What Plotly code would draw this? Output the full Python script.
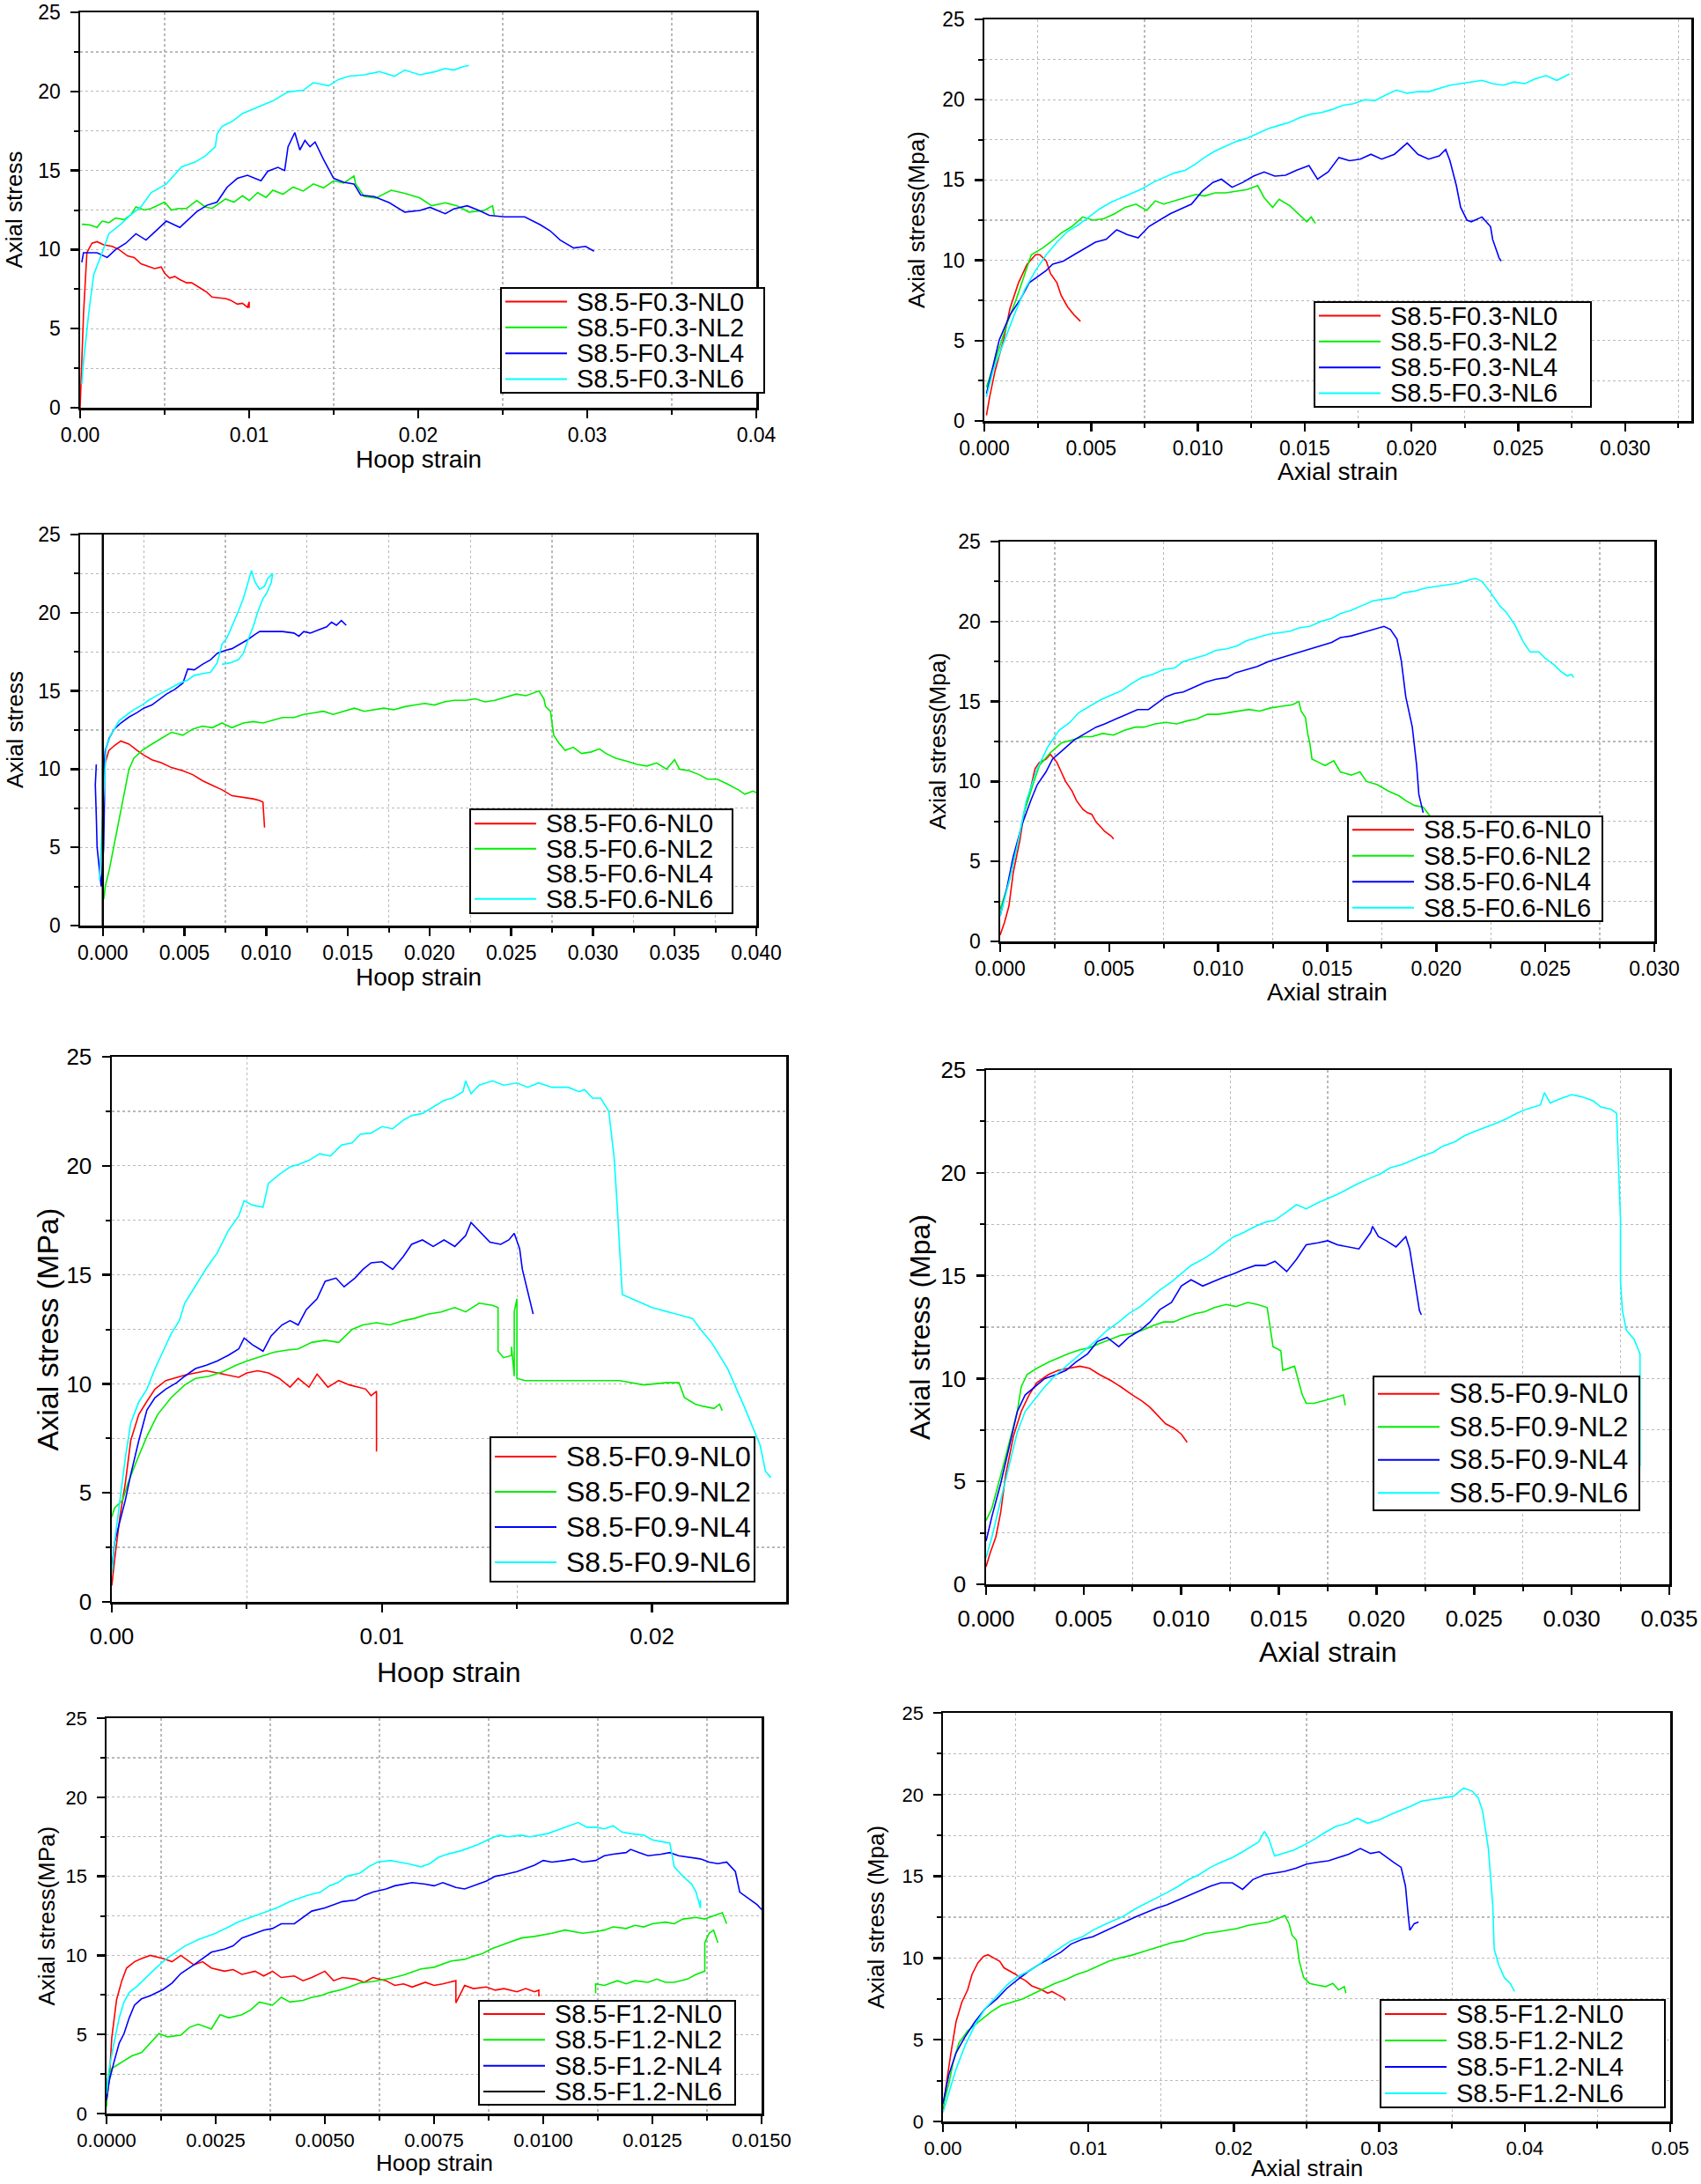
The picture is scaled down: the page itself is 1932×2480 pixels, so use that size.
import plotly.graph_objects as go

W, H = 1932, 2480

RED, GREEN, BLUE, CYAN = "#FF0000", "#00EE00", "#0000FF", "#00FFFF"

# ---------------- Panel 1: F0.3, hoop strain ----------------
p1_nl0_x = [0, 0.0001, 0.0002, 0.0004, 0.0007, 0.0010, 0.0014, 0.0019, 0.0023, 0.0028, 0.0032, 0.0036, 0.0039, 0.0044,
            0.0048, 0.0050, 0.0053, 0.0056, 0.0059, 0.0063, 0.0066, 0.0070, 0.0072, 0.0075, 0.0078, 0.0082, 0.0086,
            0.0089, 0.0093, 0.0096, 0.0099, 0.0100, 0.0100]
p1_nl0_y = [0, 3.0, 5.9, 9.8, 10.4, 10.5, 10.3, 10.2, 10.0, 9.6, 9.5, 9.1, 9.0, 8.8, 8.9, 8.5, 8.2, 8.3, 8.1, 7.9, 7.9,
            7.6, 7.5, 7.3, 7.0, 6.95, 6.9, 6.8, 6.55, 6.6, 6.35, 6.7, 6.3]
p1_nl2_x = [0.0001, 0.0006, 0.0010, 0.0013, 0.0017, 0.0021, 0.0026, 0.0030, 0.0033, 0.0038, 0.0042, 0.0046, 0.0050, 0.0054,
            0.0058, 0.0063, 0.0069, 0.0074, 0.0078, 0.0082, 0.0086, 0.0091, 0.0096, 0.0100, 0.0105, 0.0110, 0.0114,
            0.0120, 0.0126, 0.0132, 0.0138, 0.0144, 0.0150, 0.0156, 0.0162, 0.0163, 0.0168, 0.0175, 0.0184, 0.0192,
            0.0201, 0.0208, 0.0216, 0.0223, 0.0230, 0.0239, 0.0244, 0.0245]
p1_nl2_y = [11.6, 11.55, 11.4, 11.8, 11.7, 12.0, 11.9, 12.2, 12.7, 12.5, 12.6, 12.8, 13.0, 12.5, 12.6, 12.6, 13.1, 12.7,
            12.6, 12.9, 13.2, 13.0, 13.4, 13.1, 13.6, 13.3, 13.75, 13.5, 13.95, 13.7, 14.15, 13.9, 14.35, 14.2, 14.65,
            14.15, 13.36, 13.26, 13.75, 13.56, 13.26, 12.77, 12.96, 12.77, 12.37, 12.47, 12.77, 12.17]
p1_nl4_x = [0.0001, 0.0002, 0.0010, 0.0016, 0.0021, 0.0027, 0.0033, 0.0039, 0.0045, 0.0051, 0.0059, 0.0063, 0.0069,
            0.0075, 0.0081, 0.0087, 0.0093, 0.0099, 0.0107, 0.0111, 0.0117, 0.0121, 0.0123, 0.0127, 0.0130, 0.0133,
            0.0136, 0.0139, 0.0144, 0.0150, 0.0156, 0.0162, 0.0166, 0.0174, 0.0183, 0.0192, 0.0201, 0.0207, 0.0216,
            0.0221, 0.0229, 0.0236, 0.0242, 0.0251, 0.0263, 0.0272, 0.0278, 0.0284, 0.0292, 0.0299, 0.0304]
p1_nl4_y = [9.2, 9.8, 9.8, 9.5, 10.0, 10.4, 11.0, 10.6, 11.2, 11.8, 11.4, 11.8, 12.4, 12.8, 13.0, 13.95, 14.5, 14.7,
            14.35, 14.95, 15.2, 15.0, 16.5, 17.4, 16.3, 16.9, 16.5, 16.8, 15.7, 14.5, 14.25, 14.15, 13.45, 13.35,
            12.96, 12.37, 12.47, 12.67, 12.27, 12.57, 12.77, 12.47, 12.17, 12.07, 12.07, 11.58, 11.19, 10.6, 10.1,
            10.2, 9.9]
p1_nl6_x = [0.0001, 0.0002, 0.0005, 0.0008, 0.0013, 0.0017, 0.0024, 0.0030, 0.0036, 0.0042, 0.0051, 0.0056, 0.0060,
            0.0068, 0.0074, 0.0080, 0.0081, 0.0084, 0.0090, 0.0096, 0.0105, 0.0114, 0.0123, 0.0132, 0.0138, 0.0147,
            0.0153, 0.0159, 0.0168, 0.0177, 0.0186, 0.0192, 0.0201, 0.0210, 0.0216, 0.0221, 0.0226, 0.0230]
p1_nl6_y = [1.5, 2.9, 5.9, 8.4, 9.8, 11.0, 11.6, 12.2, 12.7, 13.6, 14.15, 14.74, 15.23, 15.53, 15.92, 16.5, 17.3, 17.8,
            18.1, 18.6, 19.0, 19.4, 19.97, 20.07, 20.56, 20.36, 20.76, 20.96, 21.05, 21.25, 20.96, 21.35, 21.05,
            21.25, 21.45, 21.35, 21.55, 21.65]

# ---------------- Panel 2: F0.3, axial strain ----------------
p2_nl0_x = [0.0001, 0.00025, 0.0005, 0.0009, 0.0012, 0.0016, 0.0020, 0.0024, 0.0026, 0.0029, 0.0031, 0.0034, 0.0036,
            0.0039, 0.0042, 0.0045]
p2_nl0_y = [0.35, 1.5, 3.1, 5.05, 7.0, 8.6, 9.75, 10.35, 10.35, 9.95, 9.17, 8.6, 7.8, 7.1, 6.6, 6.2]
p2_nl2_x = [0.0001, 0.0004, 0.0007, 0.0011, 0.0015, 0.0019, 0.0022, 0.0027, 0.0031, 0.0036, 0.0041, 0.0046, 0.0051,
            0.0056, 0.0061, 0.0066, 0.0071, 0.0076, 0.0080, 0.0084, 0.0089, 0.0094, 0.0099, 0.0103, 0.0108, 0.0113,
            0.0118, 0.0123, 0.0128, 0.0131, 0.0135, 0.0138, 0.0143, 0.0147, 0.0151, 0.0153, 0.0155]
p2_nl2_y = [2.1, 3.3, 4.47, 6.2, 7.6, 9.17, 10.35, 10.74, 11.13, 11.7, 12.1, 12.7, 12.5, 12.6, 12.9, 13.3, 13.5, 13.1,
            13.7, 13.5, 13.7, 13.9, 14.1, 14.0, 14.2, 14.2, 14.3, 14.4, 14.65, 13.9, 13.3, 13.8, 13.4, 12.9, 12.4, 12.7,
            12.3]
p2_nl4_x = [0.0001, 0.0004, 0.0007, 0.0012, 0.0017, 0.0021, 0.0025, 0.0029, 0.0032, 0.0037, 0.0042, 0.0047, 0.0052,
            0.0057, 0.0062, 0.0067, 0.0072, 0.0077, 0.0082, 0.0087, 0.0092, 0.0097, 0.0102, 0.0107, 0.0111, 0.0116,
            0.0121, 0.0126, 0.0131, 0.0136, 0.0141, 0.0146, 0.0152, 0.0156, 0.0161, 0.0166, 0.0171, 0.0176, 0.0181,
            0.0186, 0.0192, 0.0198, 0.0203, 0.0208, 0.0213, 0.0216, 0.0218, 0.0221, 0.0223, 0.0226, 0.0228, 0.0233,
            0.0237, 0.0238, 0.0241, 0.0242]
p2_nl4_y = [1.7, 3.3, 5.05, 6.6, 7.6, 8.6, 8.97, 9.37, 9.76, 9.95, 10.35, 10.74, 11.13, 11.3, 11.9, 11.6, 11.4, 12.1,
            12.5, 12.9, 13.2, 13.5, 14.3, 14.85, 15.05, 14.55, 14.85, 15.24, 15.5, 15.24, 15.3, 15.6, 15.9, 15.05,
            15.5, 16.4, 16.2, 16.3, 16.6, 16.3, 16.6, 17.3, 16.6, 16.3, 16.5, 16.9, 16.2, 14.65, 13.3, 12.5, 12.4,
            12.7, 12.1, 11.3, 10.15, 9.95]
p2_nl6_x = [0.0001, 0.0004, 0.0009, 0.0014, 0.0019, 0.0024, 0.0029, 0.0034, 0.0039, 0.0044, 0.0049, 0.0054, 0.0059,
            0.0064, 0.0069, 0.0074, 0.0079, 0.0084, 0.0089, 0.0094, 0.0099, 0.0103, 0.0108, 0.0113, 0.0118, 0.0123,
            0.0128, 0.0133, 0.0138, 0.0143, 0.0148, 0.0153, 0.0158, 0.0163, 0.0168, 0.0173, 0.0178, 0.0183, 0.0188,
            0.0193, 0.0198, 0.0203, 0.0208, 0.0213, 0.0218, 0.0223, 0.0228, 0.0233, 0.0238, 0.0243, 0.0248, 0.0253,
            0.0258, 0.0263, 0.0268, 0.0274]
p2_nl6_y = [1.5, 3.1, 4.86, 6.6, 8.2, 9.37, 10.35, 11.13, 11.8, 12.2, 12.7, 13.2, 13.6, 13.9, 14.2, 14.46, 14.85, 15.15,
            15.44, 15.6, 16.0, 16.4, 16.8, 17.1, 17.4, 17.6, 17.9, 18.2, 18.4, 18.6, 18.9, 19.1, 19.2, 19.4, 19.65,
            19.75, 20.0, 19.95, 20.3, 20.6, 20.4, 20.5, 20.5, 20.7, 20.9, 21.0, 21.1, 21.2, 21.0, 20.9, 21.1, 21.0,
            21.3, 21.5, 21.2, 21.6]

# ---------------- Panel 3: F0.6, hoop strain ----------------
p3_nl0_x = [0, 0, 0, 0.00006, 0.00015, 0.00037, 0.0007, 0.0011, 0.0016, 0.0021, 0.0025, 0.0030, 0.0036, 0.0042, 0.0049,
            0.0055, 0.0061, 0.0067, 0.0073, 0.0079, 0.0086, 0.0092, 0.0096, 0.0098, 0.0099]
p3_nl0_y = [0, 1.3, 5.2, 9.07, 10.4, 11.2, 11.5, 11.8, 11.6, 11.2, 10.9, 10.6, 10.4, 10.1, 9.9, 9.65, 9.26, 8.97, 8.68,
            8.3, 8.2, 8.1, 8.0, 7.9, 6.26]
p3_nl2_x = [0.00006, 0.00015, 0.0004, 0.0007, 0.0010, 0.0013, 0.0016, 0.0019, 0.0024, 0.0030, 0.0036, 0.0042, 0.0049,
            0.0055, 0.0061, 0.0067, 0.0073, 0.0079, 0.0086, 0.0092, 0.0098, 0.0104, 0.0110, 0.0117, 0.0123, 0.0129,
            0.0135, 0.0141, 0.0147, 0.0154, 0.0160, 0.0166, 0.0172, 0.0178, 0.0185, 0.0191, 0.0197, 0.0203, 0.0209,
            0.0215, 0.0222, 0.0228, 0.0234, 0.0240, 0.0246, 0.0253, 0.0259, 0.0265, 0.0267, 0.0270, 0.0271, 0.0274,
            0.0276, 0.0279, 0.0283, 0.0288, 0.0293, 0.0299, 0.0304, 0.0308, 0.0314, 0.0321, 0.0327, 0.0333, 0.0339,
            0.0345, 0.0350, 0.0353, 0.0359, 0.0365, 0.0370, 0.0376, 0.0382, 0.0389, 0.0393, 0.0398, 0.0400]
p3_nl2_y = [1.7, 2.5, 3.6, 5.2, 6.74, 8.5, 10.0, 10.7, 11.2, 11.6, 12.0, 12.36, 12.17, 12.56, 12.75, 12.65, 12.95, 12.65,
            12.95, 13.04, 12.95, 13.14, 13.3, 13.3, 13.5, 13.6, 13.7, 13.5, 13.7, 13.9, 13.7, 13.8, 13.9, 13.8, 14.0,
            14.1, 14.2, 14.1, 14.3, 14.4, 14.4, 14.5, 14.3, 14.4, 14.6, 14.8, 14.7, 14.9, 15.0, 14.5, 14.0, 13.7,
            12.17, 11.7, 11.2, 11.4, 11.0, 11.1, 11.3, 11.0, 10.7, 10.5, 10.3, 10.2, 10.4, 10.0, 10.6, 10.0, 9.9,
            9.65, 9.36, 9.36, 9.07, 8.68, 8.4, 8.6, 8.5]
p3_nl4_x = [-0.0004, -0.00046, -0.0004, -0.00035, -0.0002, -0.0001, 0.00005, 0.0001, 0.0001, 0.00015, 0.0004, 0.0007,
            0.0011, 0.0016, 0.0021, 0.0025, 0.0030, 0.0035, 0.0039, 0.0044, 0.0049, 0.0052, 0.0056, 0.0061, 0.0066,
            0.0070, 0.0075, 0.0079, 0.0084, 0.0089, 0.0093, 0.0096, 0.0101, 0.0110, 0.0117, 0.0120, 0.0123, 0.0127,
            0.0132, 0.0137, 0.0140, 0.0143, 0.0146, 0.0149]
p3_nl4_y = [10.3, 9.0, 7.0, 5.0, 3.5, 2.5, 5.0, 8.0, 10.5, 11.2, 12.0, 12.56, 12.95, 13.33, 13.62, 13.9, 14.1, 14.5, 14.8,
            15.1, 15.5, 16.4, 16.35, 16.7, 17.0, 17.4, 17.6, 17.7, 18.0, 18.3, 18.6, 18.8, 18.8, 18.8, 18.7, 18.5,
            18.8, 18.7, 18.9, 19.1, 19.4, 19.2, 19.5, 19.2]
p3_nl6_x = [-0.0002, 0.00005, 0.0002, 0.0005, 0.0010, 0.0015, 0.0019, 0.0024, 0.0028, 0.0033, 0.0038, 0.0042, 0.0047,
            0.0052, 0.0056, 0.0061, 0.0066, 0.0070, 0.0073, 0.0076, 0.0079, 0.0083, 0.0086, 0.0089, 0.0091, 0.0093,
            0.0096, 0.0099, 0.0101, 0.0104, 0.0103, 0.0100, 0.0098, 0.0095, 0.0092, 0.0089, 0.0086, 0.0083, 0.0078,
            0.0073]
p3_nl6_y = [2.9, 8.0, 11.4, 12.2, 13.1, 13.5, 13.8, 14.1, 14.4, 14.7, 15.0, 15.2, 15.5, 15.7, 16.0, 16.1, 16.2, 16.8,
            18.0, 18.4, 19.1, 20.1, 20.9, 22.0, 22.7, 22.0, 21.5, 21.7, 22.2, 22.5, 21.9, 21.2, 20.9, 20.1, 19.1,
            18.3, 17.4, 17.0, 16.8, 16.7]

# ---------------- Panel 4: F0.6, axial strain ----------------
p4_nl0_x = [0, 0.0002, 0.0004, 0.0006, 0.0009, 0.0011, 0.0014, 0.0016, 0.0018, 0.0021, 0.0023, 0.0026, 0.0028, 0.0030,
            0.0033, 0.0035, 0.0038, 0.0040, 0.0042, 0.0044, 0.0046, 0.0048, 0.0051, 0.0052]
p4_nl0_y = [0.4, 1.2, 2.2, 4.3, 6.3, 8.05, 9.6, 10.8, 11.2, 11.4, 11.7, 11.2, 10.6, 10.0, 9.4, 8.8, 8.25, 8.05, 7.95,
            7.46, 7.17, 6.87, 6.58, 6.4]
p4_nl2_x = [0, 0.0004, 0.0008, 0.0011, 0.0015, 0.0018, 0.0023, 0.0028, 0.0033, 0.0038, 0.0042, 0.0047, 0.0052, 0.0057,
            0.0062, 0.0066, 0.0071, 0.0076, 0.0081, 0.0086, 0.0090, 0.0095, 0.0100, 0.0105, 0.0110, 0.0114, 0.0119,
            0.0124, 0.0129, 0.0134, 0.0137, 0.0138, 0.0140, 0.0141, 0.0142, 0.0143, 0.0146, 0.0149, 0.0153, 0.0156,
            0.0161, 0.0165, 0.0168, 0.0173, 0.0178, 0.0183, 0.0186, 0.0190, 0.0194, 0.0196, 0.0197]
p4_nl2_y = [2.0, 3.7, 6.1, 8.05, 9.8, 11.0, 11.8, 12.4, 12.6, 12.8, 12.8, 13.0, 12.9, 13.2, 13.4, 13.4, 13.6, 13.7,
            13.6, 13.8, 13.9, 14.2, 14.2, 14.3, 14.4, 14.5, 14.4, 14.6, 14.7, 14.8, 15.0, 14.4, 14.0, 13.0, 12.4,
            11.4, 11.2, 11.0, 11.3, 10.6, 10.4, 10.6, 10.0, 9.8, 9.4, 9.1, 8.8, 8.5, 8.4, 8.05, 7.86]
p4_nl4_x = [0, 0.0003, 0.0006, 0.0010, 0.0014, 0.0017, 0.0021, 0.0024, 0.0029, 0.0034, 0.0039, 0.0044, 0.0048, 0.0053,
            0.0058, 0.0063, 0.0068, 0.0072, 0.0076, 0.0080, 0.0084, 0.0089, 0.0094, 0.0099, 0.0104, 0.0108, 0.0113,
            0.0118, 0.0123, 0.0128, 0.0132, 0.0137, 0.0142, 0.0147, 0.0152, 0.0156, 0.0161, 0.0166, 0.0171, 0.0176,
            0.0179, 0.0182, 0.0184, 0.0186, 0.0189, 0.0191, 0.0192, 0.0194]
p4_nl4_y = [1.6, 3.3, 5.3, 7.3, 8.8, 9.8, 10.6, 11.4, 12.0, 12.6, 13.0, 13.4, 13.6, 13.9, 14.2, 14.5, 14.5, 14.9, 15.3,
            15.5, 15.6, 15.9, 16.2, 16.4, 16.5, 16.8, 17.0, 17.2, 17.5, 17.7, 17.9, 18.1, 18.3, 18.5, 18.7, 19.0,
            19.1, 19.3, 19.5, 19.7, 19.5, 18.9, 17.5, 15.3, 13.4, 11.0, 9.2, 8.05]
p4_nl6_x = [0, 0.0004, 0.0008, 0.0012, 0.0017, 0.0022, 0.0027, 0.0032, 0.0036, 0.0041, 0.0046, 0.0051, 0.0056, 0.0060,
            0.0065, 0.0070, 0.0075, 0.0080, 0.0084, 0.0089, 0.0094, 0.0099, 0.0104, 0.0109, 0.0113, 0.0118, 0.0123,
            0.0128, 0.0133, 0.0137, 0.0142, 0.0147, 0.0152, 0.0156, 0.0161, 0.0166, 0.0171, 0.0176, 0.0181, 0.0185,
            0.0190, 0.0195, 0.0200, 0.0205, 0.0210, 0.0215, 0.0218, 0.0221, 0.0225, 0.0229, 0.0232, 0.0236, 0.0240,
            0.0243, 0.0247, 0.0250, 0.0254, 0.0257, 0.0260, 0.0262, 0.0263]
p4_nl6_y = [1.6, 3.7, 6.1, 8.8, 10.8, 12.2, 13.2, 13.7, 14.3, 14.7, 15.1, 15.4, 15.7, 16.1, 16.5, 16.7, 17.0, 17.1,
            17.5, 17.7, 17.9, 18.2, 18.3, 18.5, 18.8, 19.0, 19.2, 19.3, 19.4, 19.6, 19.7, 20.0, 20.2, 20.5, 20.7,
            21.0, 21.3, 21.4, 21.5, 21.8, 21.9, 22.1, 22.2, 22.3, 22.4, 22.6, 22.7, 22.5, 21.8, 21.0, 20.6, 19.8,
            18.7, 18.1, 18.1, 17.7, 17.3, 16.9, 16.6, 16.7, 16.5]

# ---------------- Panel 5: F0.9, hoop strain ----------------
p5_nl0_x = [0, 0.0001, 0.0003, 0.0005, 0.0007, 0.0010, 0.0013, 0.0016, 0.0020, 0.0024, 0.0027, 0.0031, 0.0035, 0.0039,
            0.0043, 0.0047, 0.0050, 0.0054, 0.0058, 0.0062, 0.0066, 0.0069, 0.0073, 0.0076, 0.0080, 0.0084, 0.0088,
            0.0091, 0.0094, 0.0096, 0.0098, 0.0098]
p5_nl0_y = [0.75, 1.9, 3.9, 5.45, 7.4, 8.6, 9.2, 9.76, 10.15, 10.3, 10.4, 10.5, 10.6, 10.5, 10.4, 10.3, 10.5, 10.6,
            10.5, 10.25, 9.85, 10.25, 9.85, 10.45, 9.85, 10.15, 9.95, 9.85, 9.76, 9.46, 9.66, 6.9]
p5_nl2_x = [0, 0.0001, 0.0004, 0.0006, 0.0009, 0.0013, 0.0017, 0.0022, 0.0027, 0.0031, 0.0036, 0.0041, 0.0046, 0.0050,
            0.0055, 0.0060, 0.0065, 0.0069, 0.0074, 0.0079, 0.0084, 0.0089, 0.0093, 0.0098, 0.0103, 0.0108, 0.0112,
            0.0117, 0.0122, 0.0127, 0.0131, 0.0136, 0.0141, 0.0143, 0.0143, 0.0145, 0.0148, 0.0148, 0.0149, 0.0149,
            0.0150, 0.0150, 0.0150, 0.0153, 0.0169, 0.0188, 0.0197, 0.0205, 0.0210, 0.0212, 0.0216, 0.0219, 0.0223,
            0.0225, 0.0226]
p5_nl2_y = [3.9, 4.3, 4.66, 5.45, 6.4, 7.6, 8.6, 9.37, 9.95, 10.25, 10.35, 10.55, 10.85, 11.05, 11.25, 11.45, 11.55,
            11.6, 11.9, 12.0, 11.9, 12.5, 12.7, 12.8, 12.7, 12.9, 13.0, 13.2, 13.3, 13.5, 13.3, 13.7, 13.6, 13.5,
            11.5, 11.2, 11.3, 11.7, 10.35, 13.3, 13.9, 13.2, 10.25, 10.15, 10.15, 10.15, 9.95, 10.05, 10.05, 9.37,
            9.07, 8.97, 8.87, 9.07, 8.77]
p5_nl4_x = [0, 0.0001, 0.0003, 0.0005, 0.0007, 0.0010, 0.0013, 0.0016, 0.0020, 0.0024, 0.0027, 0.0031, 0.0035, 0.0039,
            0.0043, 0.0047, 0.0049, 0.0052, 0.0056, 0.0059, 0.0063, 0.0066, 0.0069, 0.0072, 0.0076, 0.0079, 0.0083,
            0.0086, 0.0090, 0.0093, 0.0096, 0.0100, 0.0104, 0.0108, 0.0111, 0.0115, 0.0119, 0.0123, 0.0127, 0.0131,
            0.0133, 0.0136, 0.0140, 0.0144, 0.0147, 0.0149, 0.0151, 0.0152, 0.0154, 0.0156]
p5_nl4_y = [1.5, 2.7, 3.7, 4.66, 5.84, 7.4, 8.8, 9.37, 9.76, 10.05, 10.35, 10.7, 10.85, 11.05, 11.3, 11.6, 12.1, 11.8,
            11.5, 12.2, 12.7, 12.9, 12.7, 13.4, 13.9, 14.7, 14.85, 14.45, 14.85, 15.25, 15.55, 15.6, 15.25, 15.85,
            16.4, 16.6, 16.3, 16.6, 16.3, 16.8, 17.4, 17.0, 16.5, 16.4, 16.6, 16.9, 16.2, 15.25, 14.26, 13.2]
p5_nl6_x = [0, 0.0001, 0.0003, 0.0005, 0.0007, 0.0010, 0.0013, 0.0016, 0.0019, 0.0022, 0.0025, 0.0027, 0.0031, 0.0035,
            0.0039, 0.0043, 0.0047, 0.0049, 0.0052, 0.0056, 0.0058, 0.0062, 0.0066, 0.0069, 0.0073, 0.0077, 0.0081,
            0.0085, 0.0089, 0.0092, 0.0096, 0.0100, 0.0104, 0.0108, 0.0111, 0.0115, 0.0119, 0.0123, 0.0126, 0.0130,
            0.0131, 0.0133, 0.0136, 0.0141, 0.0145, 0.0150, 0.0154, 0.0158, 0.0163, 0.0169, 0.0173, 0.0175, 0.0178,
            0.0181, 0.0184, 0.0186, 0.0187, 0.0188, 0.0189, 0.0200, 0.0215, 0.0218, 0.0222, 0.0228, 0.0234, 0.0240,
            0.0242, 0.0244]
p5_nl6_y = [1.3, 2.7, 4.66, 6.6, 8.2, 9.17, 9.76, 10.7, 11.5, 12.3, 12.9, 13.7, 14.5, 15.3, 16.0, 17.0, 17.7, 18.4, 18.2,
            18.1, 19.2, 19.6, 19.95, 20.05, 20.25, 20.55, 20.45, 20.95, 21.05, 21.45, 21.5, 21.8, 21.7, 22.1, 22.3,
            22.4, 22.7, 23.0, 23.1, 23.4, 23.9, 23.3, 23.7, 23.9, 23.7, 23.8, 23.6, 23.8, 23.6, 23.6, 23.4, 23.5,
            23.1, 23.1, 22.5, 20.35, 18.4, 16.4, 14.1, 13.5, 13.0, 12.5, 11.9, 10.7, 9.0, 7.2, 6.0, 5.7]

# ---------------- Panel 6: F0.9, axial strain ----------------
p6_nl0_x = [0, 0.0002, 0.0005, 0.00075, 0.0010, 0.0014, 0.0018, 0.0022, 0.0026, 0.0032, 0.0037, 0.0042, 0.0048, 0.0053,
            0.0058, 0.0064, 0.0069, 0.0075, 0.0080, 0.0084, 0.0088, 0.0092, 0.0096, 0.0100, 0.0103]
p6_nl0_y = [0.85, 1.5, 2.3, 3.5, 5.3, 7.2, 8.4, 9.2, 9.8, 10.2, 10.4, 10.5, 10.6, 10.5, 10.2, 9.9, 9.6, 9.2, 8.9, 8.6,
            8.2, 7.8, 7.6, 7.3, 6.9]
p6_nl2_x = [0, 0.0003, 0.00075, 0.0012, 0.0016, 0.0018, 0.0021, 0.0026, 0.0032, 0.0037, 0.0042, 0.0048, 0.0053, 0.0058,
            0.0064, 0.0069, 0.0075, 0.0080, 0.0085, 0.0091, 0.0096, 0.0101, 0.0107, 0.0112, 0.0117, 0.0123, 0.0128,
            0.0134, 0.0139, 0.0144, 0.0147, 0.0151, 0.0152, 0.0158, 0.0160, 0.0162, 0.0164, 0.0168, 0.0176, 0.0183,
            0.0184]
p6_nl2_y = [3.1, 3.7, 5.3, 7.0, 8.4, 9.6, 10.2, 10.5, 10.8, 11.0, 11.2, 11.4, 11.5, 11.7, 11.9, 12.1, 12.2, 12.35,
            12.55, 12.75, 12.75, 12.95, 13.15, 13.25, 13.45, 13.6, 13.5, 13.7, 13.6, 13.45, 11.55, 11.35, 10.4, 10.6,
            9.9, 9.2, 8.8, 8.8, 9.0, 9.2, 8.7]
p6_nl4_x = [0, 0.0003, 0.00075, 0.0012, 0.0016, 0.0020, 0.0025, 0.0030, 0.0036, 0.0041, 0.0046, 0.0052, 0.0057, 0.0062,
            0.0068, 0.0073, 0.0079, 0.0084, 0.0089, 0.0095, 0.0100, 0.0105, 0.0111, 0.0116, 0.0121, 0.0127, 0.0132,
            0.0138, 0.0143, 0.0148, 0.0154, 0.0159, 0.0164, 0.0170, 0.0175, 0.0180, 0.0186, 0.0191, 0.0197, 0.0198,
            0.0201, 0.0205, 0.0210, 0.0215, 0.0217, 0.0219, 0.0221, 0.0222, 0.0223]
p6_nl4_y = [2.1, 3.3, 4.9, 6.8, 8.4, 9.2, 9.6, 10.0, 10.2, 10.4, 10.8, 11.2, 11.8, 12.0, 11.55, 12.0, 12.35, 12.75,
            13.35, 13.7, 14.5, 14.8, 14.5, 14.7, 14.9, 15.1, 15.3, 15.5, 15.5, 15.7, 15.2, 15.8, 16.5, 16.6, 16.7,
            16.5, 16.4, 16.3, 17.1, 17.4, 16.9, 16.7, 16.4, 16.9, 16.3, 15.1, 13.9, 13.3, 13.1]
p6_nl6_x = [0, 0.0003, 0.00075, 0.0012, 0.0016, 0.0020, 0.0025, 0.0030, 0.0036, 0.0041, 0.0046, 0.0052, 0.0057, 0.0062,
            0.0068, 0.0073, 0.0079, 0.0084, 0.0089, 0.0095, 0.0100, 0.0105, 0.0111, 0.0116, 0.0121, 0.0127, 0.0132,
            0.0138, 0.0143, 0.0148, 0.0154, 0.0159, 0.0164, 0.0170, 0.0175, 0.0180, 0.0186, 0.0191, 0.0197, 0.0202,
            0.0207, 0.0213, 0.0218, 0.0223, 0.0229, 0.0234, 0.0240, 0.0245, 0.0250, 0.0256, 0.0261, 0.0266, 0.0272,
            0.0277, 0.0284, 0.0286, 0.0289, 0.0294, 0.0300, 0.0305, 0.0311, 0.0315, 0.0320, 0.0323, 0.0324, 0.0325,
            0.0325, 0.0326, 0.0328, 0.0332, 0.0335, 0.0335, 0.0335, 0.0335]
p6_nl6_y = [1.3, 2.3, 4.1, 5.9, 7.4, 8.4, 9.0, 9.6, 10.2, 10.6, 11.0, 11.5, 11.9, 12.35, 12.75, 13.15, 13.5, 13.9,
            14.3, 14.7, 15.1, 15.5, 15.8, 16.1, 16.5, 16.9, 17.1, 17.4, 17.6, 17.7, 18.1, 18.45, 18.25, 18.55, 18.75,
            18.95, 19.25, 19.5, 19.75, 19.95, 20.25, 20.4, 20.6, 20.8, 21.0, 21.3, 21.5, 21.8, 22.0, 22.2, 22.4, 22.6,
            22.9, 23.1, 23.3, 23.9, 23.4, 23.6, 23.8, 23.7, 23.5, 23.2, 23.1, 22.9, 20.6, 17.7, 14.7, 13.3, 12.35,
            11.9, 11.2, 10.2, 8.8, 5.75]

# ---------------- Panel 7: F1.2, hoop strain ----------------
p7_nl0_x = [0, 0.00006, 0.00012, 0.00023, 0.00035, 0.00046, 0.00064, 0.0008, 0.0010, 0.0013, 0.0015, 0.0017, 0.0020,
            0.0022, 0.0024, 0.0027, 0.0029, 0.0031, 0.0034, 0.0036, 0.0038, 0.0040, 0.0043, 0.0045, 0.0047, 0.0050,
            0.0052, 0.0054, 0.0057, 0.0059, 0.0061, 0.0064, 0.0066, 0.0068, 0.0070, 0.0073, 0.0075, 0.0077, 0.0080,
            0.0080, 0.0082, 0.0084, 0.0087, 0.0089, 0.0091, 0.0094, 0.0096, 0.0098, 0.0099, 0.0099]
p7_nl0_y = [0.85, 2.05, 4.8, 7.2, 8.4, 9.2, 9.6, 9.8, 10.0, 9.8, 9.6, 10.0, 9.4, 9.6, 9.2, 9.0, 9.1, 8.8, 9.0, 8.7, 9.0,
            8.6, 8.7, 8.4, 8.6, 9.0, 8.4, 8.6, 8.5, 8.3, 8.6, 8.4, 8.1, 8.2, 8.0, 8.3, 8.1, 8.2, 8.4, 7.0, 8.1, 7.9,
            8.0, 7.8, 7.9, 7.7, 7.9, 7.7, 7.8, 7.4]
p7_nl2_x = [0, 0.00003, 0.00012, 0.00035, 0.00058, 0.0008, 0.0010, 0.0012, 0.0014, 0.0017, 0.0019, 0.0021, 0.0024,
            0.0026, 0.0028, 0.0031, 0.0033, 0.0035, 0.0038, 0.0040, 0.0042, 0.0045, 0.0047, 0.0049, 0.0051, 0.0054,
            0.0056, 0.0058, 0.0061, 0.0063, 0.0065, 0.0068, 0.0070, 0.0072, 0.0075, 0.0077, 0.0079, 0.0082, 0.0084,
            0.0086, 0.0088, 0.0091, 0.0093, 0.0095, 0.0098, 0.0100, 0.0102, 0.0105, 0.0107, 0.0109, 0.0112, 0.0114,
            0.0116, 0.0119, 0.0121, 0.0123, 0.0125, 0.0128, 0.0130, 0.0132, 0.0135, 0.0137, 0.0139, 0.0141, 0.0142,
            None,
            0.0112, 0.0112, 0.0114, 0.0117, 0.0119, 0.0121, 0.0124, 0.0126, 0.0128, 0.0130, 0.0133, 0.0135, 0.0137,
            0.0137, 0.0138, 0.0139, 0.0140]
p7_nl2_y = [0.45, 2.25, 2.85, 3.25, 3.65, 3.85, 4.45, 5.05, 4.85, 4.95, 5.45, 5.65, 5.35, 6.25, 6.05, 6.25, 6.55, 7.05,
            6.85, 7.35, 7.05, 7.15, 7.35, 7.45, 7.65, 7.85, 8.05, 8.25, 8.35, 8.45, 8.55, 8.75, 8.95, 9.15, 9.25,
            9.45, 9.65, 9.75, 9.95, 10.1, 10.4, 10.7, 10.9, 11.1, 11.2, 11.3, 11.4, 11.6, 11.5, 11.4, 11.5, 11.6,
            11.8, 11.7, 11.9, 11.8, 12.0, 12.1, 12.0, 12.3, 12.4, 12.3, 12.5, 12.7, 12.0,
            None,
            7.6, 8.2, 8.1, 8.4, 8.2, 8.4, 8.3, 8.5, 8.3, 8.3, 8.5, 8.8, 9.0, 10.8, 11.4, 11.6, 10.8]
p7_nl4_x = [0, 0.00006, 0.00017, 0.00029, 0.0004, 0.00052, 0.00064, 0.0008, 0.0010, 0.0013, 0.0015, 0.0017, 0.0020,
            0.0022, 0.0024, 0.0027, 0.0029, 0.0031, 0.0034, 0.0036, 0.0038, 0.0040, 0.0043, 0.0045, 0.0047, 0.0050,
            0.0052, 0.0054, 0.0057, 0.0059, 0.0061, 0.0064, 0.0066, 0.0068, 0.0070, 0.0073, 0.0075, 0.0077, 0.0080,
            0.0082, 0.0084, 0.0087, 0.0089, 0.0091, 0.0094, 0.0096, 0.0098, 0.0100, 0.0102, 0.0105, 0.0107, 0.0109,
            0.0112, 0.0114, 0.0116, 0.0119, 0.0120, 0.0122, 0.0124, 0.0127, 0.0129, 0.0131, 0.0134, 0.0136, 0.0138,
            0.0140, 0.0142, 0.0144, 0.0145, 0.0147, 0.0149, 0.0150]
p7_nl4_y = [0.85, 2.05, 3.25, 4.45, 5.05, 6.05, 6.85, 7.25, 7.45, 7.85, 8.25, 8.85, 9.4, 9.8, 10.2, 10.4, 10.6, 11.1,
            11.4, 11.6, 11.7, 12.0, 12.0, 12.4, 12.8, 13.0, 13.2, 13.4, 13.5, 13.8, 14.0, 14.2, 14.4, 14.5, 14.6,
            14.5, 14.4, 14.6, 14.3, 14.2, 14.4, 14.7, 15.0, 15.1, 15.3, 15.5, 15.7, 16.0, 15.9, 16.0, 16.1, 15.9,
            16.0, 16.3, 16.4, 16.5, 16.7, 16.5, 16.3, 16.4, 16.5, 16.3, 16.2, 16.1, 15.9, 15.8, 15.9, 15.3, 14.0,
            13.6, 13.2, 12.9]
p7_nl6_x = [0, 0.00006, 0.00017, 0.00029, 0.0004, 0.00052, 0.0007, 0.00092, 0.00115, 0.0014, 0.0016, 0.0018, 0.0021,
            0.0023, 0.0025, 0.0028, 0.0030, 0.0032, 0.0035, 0.0037, 0.0039, 0.0042, 0.0044, 0.0046, 0.0049, 0.0051,
            0.0053, 0.0055, 0.0058, 0.0060, 0.0062, 0.0065, 0.0067, 0.0069, 0.0072, 0.0074, 0.0076, 0.0078, 0.0081,
            0.0083, 0.0085, 0.0088, 0.0090, 0.0092, 0.0095, 0.0097, 0.0099, 0.0101, 0.0104, 0.0106, 0.0108, 0.0110,
            0.0112, 0.0114, 0.0116, 0.0118, 0.0120, 0.0123, 0.0125, 0.0127, 0.0129, 0.0130, 0.0132, 0.0134, 0.0135,
            0.0136, 0.0136]
p7_nl6_y = [1.25, 2.85, 4.45, 6.05, 7.05, 7.65, 8.05, 8.65, 9.25, 9.85, 10.25, 10.6, 11.0, 11.2, 11.4, 11.8, 12.1, 12.3,
            12.6, 12.8, 13.0, 13.4, 13.6, 13.8, 14.0, 14.4, 14.6, 15.0, 15.2, 15.6, 15.9, 16.0, 15.9, 15.8, 15.6,
            15.8, 16.2, 16.4, 16.6, 16.8, 17.0, 17.4, 17.6, 17.5, 17.6, 17.5, 17.6, 17.7, 18.0, 18.2, 18.4, 18.1,
            18.1, 18.0, 18.2, 17.8, 17.7, 17.6, 17.3, 17.2, 17.1, 15.6, 15.0, 14.5, 14.0, 13.0, 13.5]

# ---------------- Panel 8: F1.2, axial strain ----------------
p8_nl0_x = [0, 0.0002, 0.00055, 0.0009, 0.0013, 0.0017, 0.0020, 0.0024, 0.0028, 0.0031, 0.0035, 0.0039, 0.0042, 0.0046,
            0.0050, 0.0053, 0.0057, 0.0061, 0.0064, 0.0068, 0.0072, 0.0075, 0.0079, 0.0083, 0.0084]
p8_nl0_y = [0.7, 2.1, 4.2, 6.1, 7.3, 8.05, 9.0, 9.7, 10.1, 10.2, 10.0, 9.8, 9.4, 9.2, 9.0, 8.8, 8.6, 8.3, 8.2, 8.05,
            7.85, 7.95, 7.75, 7.55, 7.4]
p8_nl2_x = [0, 0.0004, 0.0007, 0.0011, 0.0017, 0.0022, 0.0028, 0.0033, 0.0040, 0.0048, 0.0055, 0.0063, 0.0070, 0.0077,
            0.0085, 0.0092, 0.0099, 0.0107, 0.0114, 0.0121, 0.0129, 0.0136, 0.0143, 0.0151, 0.0158, 0.0165, 0.0173,
            0.0180, 0.0188, 0.0195, 0.0202, 0.0210, 0.0217, 0.0224, 0.0230, 0.0235, 0.0238, 0.0240, 0.0243, 0.0245,
            0.0248, 0.0252, 0.0257, 0.0263, 0.0268, 0.0272, 0.0276, 0.0277]
p8_nl2_y = [0.9, 2.3, 3.6, 4.8, 5.55, 5.9, 6.3, 6.7, 7.1, 7.3, 7.5, 7.85, 8.15, 8.45, 8.7, 9.0, 9.2, 9.5, 9.8, 10.0,
            10.15, 10.35, 10.55, 10.75, 10.95, 11.05, 11.3, 11.5, 11.6, 11.7, 11.8, 12.0, 12.1, 12.2, 12.4, 12.6,
            12.1, 11.4, 11.1, 9.8, 8.8, 8.45, 8.35, 8.25, 8.45, 8.05, 8.25, 7.85]
p8_nl4_x = [0, 0.0004, 0.0009, 0.0015, 0.0022, 0.0029, 0.0037, 0.0044, 0.0051, 0.0059, 0.0066, 0.0074, 0.0081, 0.0088,
            0.0096, 0.0103, 0.0110, 0.0118, 0.0125, 0.0132, 0.0140, 0.0147, 0.0154, 0.0162, 0.0169, 0.0176, 0.0184,
            0.0191, 0.0199, 0.0206, 0.0213, 0.0221, 0.0228, 0.0235, 0.0243, 0.0250, 0.0257, 0.0265, 0.0272, 0.0279,
            0.0287, 0.0294, 0.0300, 0.0305, 0.0310, 0.0315, 0.0318, 0.0320, 0.0321, 0.0324, 0.0327]
p8_nl4_y = [1.1, 2.85, 4.2, 5.15, 6.1, 6.9, 7.5, 8.15, 8.65, 9.2, 9.6, 10.0, 10.35, 10.85, 11.15, 11.3, 11.6, 11.9,
            12.2, 12.5, 12.8, 13.05, 13.25, 13.55, 13.8, 14.1, 14.4, 14.6, 14.6, 14.2, 14.8, 15.1, 15.2, 15.3, 15.5,
            15.75, 15.85, 15.95, 16.15, 16.35, 16.7, 16.4, 16.5, 16.15, 15.85, 15.55, 14.4, 12.5, 11.7, 12.1, 12.2]
p8_nl6_x = [0, 0.0004, 0.0009, 0.0015, 0.0022, 0.0029, 0.0037, 0.0044, 0.0051, 0.0059, 0.0066, 0.0074, 0.0081, 0.0088,
            0.0096, 0.0103, 0.0110, 0.0118, 0.0125, 0.0132, 0.0140, 0.0147, 0.0154, 0.0162, 0.0169, 0.0176, 0.0184,
            0.0191, 0.0199, 0.0206, 0.0213, 0.0217, 0.0221, 0.0224, 0.0228, 0.0233, 0.0241, 0.0248, 0.0256, 0.0263,
            0.0270, 0.0278, 0.0285, 0.0292, 0.0300, 0.0307, 0.0314, 0.0322, 0.0329, 0.0336, 0.0344, 0.0351, 0.0358,
            0.0364, 0.0368, 0.0371, 0.0375, 0.0378, 0.0379, 0.0382, 0.0386, 0.0390, 0.0393]
p8_nl6_y = [0.55, 1.7, 3.2, 4.6, 5.9, 6.9, 7.65, 8.35, 8.85, 9.2, 9.6, 10.2, 10.65, 11.05, 11.3, 11.7, 12.0, 12.3, 12.6,
            13.0, 13.35, 13.65, 14.0, 14.4, 14.8, 15.1, 15.55, 15.85, 16.15, 16.5, 16.9, 17.1, 17.75, 17.3, 16.25,
            16.4, 16.6, 16.9, 17.3, 17.7, 18.05, 18.25, 18.55, 18.25, 18.45, 18.75, 19.0, 19.3, 19.6, 19.7, 19.8,
            19.9, 20.4, 20.2, 19.8, 19.0, 16.7, 13.25, 10.55, 9.6, 8.8, 8.45, 7.95]

# ---------------- Labels ----------------
p1_names = ["S8.5-F0.3-NL0", "S8.5-F0.3-NL2", "S8.5-F0.3-NL4", "S8.5-F0.3-NL6"]
p3_names = ["S8.5-F0.6-NL0", "S8.5-F0.6-NL2", "S8.5-F0.6-NL4", "S8.5-F0.6-NL6"]
p5_names = ["S8.5-F0.9-NL0", "S8.5-F0.9-NL2", "S8.5-F0.9-NL4", "S8.5-F0.9-NL6"]
p7_names = ["S8.5-F1.2-NL0", "S8.5-F1.2-NL2", "S8.5-F1.2-NL4", "S8.5-F1.2-NL6"]
y_range = [0, 25]
y_ticks = [0, 5, 10, 15, 20, 25]

COLORS = [RED, GREEN, BLUE, CYAN]
SMALL = dict(tick=23, xt=28, yt=26, leg=29, xoff=58, xstand=0)
BOTTOM = dict(tick=22, xt=26, yt=26, leg=29, xoff=56, xstand=0)
BIG5 = dict(tick=26, xt=32, yt=34, leg=32, xoff=80, xstand=5)
BIG6 = dict(tick=26, xt=32, yt=32, leg=31, xoff=77, xstand=5)

# Panel layout (pixel boxes), legend boxes and fonts
panels = [
    dict(series=[(p1_nl0_x, p1_nl0_y), (p1_nl2_x, p1_nl2_y), (p1_nl4_x, p1_nl4_y), (p1_nl6_x, p1_nl6_y)],
         names=p1_names, dom=(91, 859, 14, 463), xr=[0, 0.04], dt=0.01, mdt=0.005, fmt=".2f",
         xt="Hoop strain", yt="Axial stress", ytx=15, legbox=(569, 327, 868, 446), legsp=29.3,
         fs=SMALL, swatch=COLORS),
    dict(series=[(p2_nl0_x, p2_nl0_y), (p2_nl2_x, p2_nl2_y), (p2_nl4_x, p2_nl4_y), (p2_nl6_x, p2_nl6_y)],
         names=p1_names, dom=(1118, 1921, 22, 478), xr=[0, 0.0331], dt=0.005, mdt=0.0025, fmt=".3f",
         xt="Axial strain", yt="Axial stress(Mpa)", ytx=1041, legbox=(1493, 343, 1807, 462), legsp=29.3,
         fs=SMALL, swatch=COLORS),
    dict(series=[(p3_nl0_x, p3_nl0_y), (p3_nl2_x, p3_nl2_y), (p3_nl4_x, p3_nl4_y), (p3_nl6_x, p3_nl6_y)],
         names=p3_names, dom=(91, 859, 607, 1051), xr=[-0.00139, 0.0400], dt=0.005, mdt=0.0025, fmt=".3f",
         xt="Hoop strain", yt="Axial stress", ytx=17, legbox=(534, 919, 832, 1037), legsp=28.5,
         fs=SMALL, swatch=[RED, GREEN, None, CYAN]),
    dict(series=[(p4_nl0_x, p4_nl0_y), (p4_nl2_x, p4_nl2_y), (p4_nl4_x, p4_nl4_y), (p4_nl6_x, p4_nl6_y)],
         names=p3_names, dom=(1136, 1879, 615, 1069), xr=[0, 0.030], dt=0.005, mdt=0.0025, fmt=".3f",
         xt="Axial strain", yt="Axial stress(Mpa)", ytx=1065, legbox=(1531, 927, 1820, 1046), legsp=29.5,
         fs=SMALL, swatch=COLORS),
    dict(series=[(p5_nl0_x, p5_nl0_y), (p5_nl2_x, p5_nl2_y), (p5_nl4_x, p5_nl4_y), (p5_nl6_x, p5_nl6_y)],
         names=p5_names, dom=(127, 893, 1200, 1819), xr=[0, 0.02497], dt=0.01, mdt=0.005, fmt=".2f",
         xt="Hoop strain", yt="Axial stress (MPa)", ytx=53, legbox=(557, 1632, 857, 1796), legsp=40,
         fs=BIG5, swatch=COLORS),
    dict(series=[(p6_nl0_x, p6_nl0_y), (p6_nl2_x, p6_nl2_y), (p6_nl4_x, p6_nl4_y), (p6_nl6_x, p6_nl6_y)],
         names=p5_names, dom=(1120, 1896, 1215, 1799), xr=[0, 0.035], dt=0.005, mdt=0.0025, fmt=".3f",
         xt="Axial strain", yt="Axial stress (Mpa)", ytx=1045, legbox=(1560, 1563, 1862, 1715), legsp=37.5,
         fs=BIG6, swatch=COLORS),
    dict(series=[(p7_nl0_x, p7_nl0_y), (p7_nl2_x, p7_nl2_y), (p7_nl4_x, p7_nl4_y), (p7_nl6_x, p7_nl6_y)],
         names=p7_names, dom=(121, 865, 1951, 2400), xr=[0, 0.015], dt=0.0025, mdt=0.00125, fmt=".4f",
         xt="Hoop strain", yt="Axial stress(MPa)", ytx=52, legbox=(544, 2272, 835, 2390), legsp=29.3,
         fs=BOTTOM, swatch=[RED, GREEN, BLUE, "#000000"]),
    dict(series=[(p8_nl0_x, p8_nl0_y), (p8_nl2_x, p8_nl2_y), (p8_nl4_x, p8_nl4_y), (p8_nl6_x, p8_nl6_y)],
         names=p7_names, dom=(1071, 1897, 1945, 2409), xr=[0, 0.05], dt=0.01, mdt=0.005, fmt=".2f",
         xt="Axial strain", yt="Axial stress (Mpa)", ytx=995, legbox=(1568, 2271, 1891, 2393), legsp=30,
         fs=dict(BOTTOM, xoff=53), swatch=COLORS),
]

FONT = "Liberation Sans, Arial, sans-serif"
fig = go.Figure()
layout = dict(width=W, height=H, margin=dict(l=0, r=0, t=0, b=0, autoexpand=False), paper_bgcolor="white",
              plot_bgcolor="white", font=dict(family=FONT, color="black"), showlegend=False)
shapes, annotations = [], []


def px(x):
    return x / W


def py(y):
    return 1 - y / H


for i, p in enumerate(panels, start=1):
    sfx = "" if i == 1 else str(i)
    xa, ya = "x" + sfx, "y" + sfx
    for k, ((xs, ys), nm) in enumerate(zip(p["series"], p["names"])):
        fig.add_trace(go.Scatter(x=xs, y=ys, mode="lines", name=nm, xaxis=xa, yaxis=ya,
                                 line=dict(color=COLORS[k], width=1.6), connectgaps=False, hoverinfo="skip"))
    x0, x1, y0, y1 = p["dom"]
    fs = p["fs"]
    common = dict(ticks="outside", ticklen=9, tickwidth=2.5, tickcolor="black", showline=True, linewidth=2.5,
                  linecolor="black", mirror=True, showgrid=False, zeroline=False, automargin=False,
                  ticklabeloverflow="allow",
                  tickfont=dict(size=fs["tick"], color="black", family=FONT))
    layout["xaxis" + sfx] = dict(
        common, domain=[px(x0), px(x1)], anchor=ya, range=p["xr"], dtick=p["dt"], tick0=0, tickformat=p["fmt"],
        ticklabelstandoff=fs["xstand"],
        minor=dict(dtick=p["mdt"], tick0=0, ticks="outside", ticklen=5, tickwidth=2, tickcolor="black",
                   showgrid=True, gridcolor="#b9b9b9", griddash="dot", gridwidth=1.2))
    layout["yaxis" + sfx] = dict(
        common, domain=[py(y1), py(y0)], anchor=xa, range=y_range, tickvals=y_ticks, ticklabelstandoff=6,
        minor=dict(dtick=2.5, tick0=0, ticks="outside", ticklen=5, tickwidth=2, tickcolor="black",
                   showgrid=True, gridcolor="#b9b9b9", griddash="dot", gridwidth=1.2))
    # axis titles
    annotations.append(dict(text=p["xt"], xref="paper", yref="paper", x=px((x0 + x1) / 2), y=py(y1 + fs["xoff"]),
                            xanchor="center", yanchor="middle", showarrow=False,
                            font=dict(size=fs["xt"], family=FONT, color="black")))
    annotations.append(dict(text=p["yt"], xref="paper", yref="paper", x=px(p["ytx"]), y=py((y0 + y1) / 2),
                            xanchor="center", yanchor="middle", showarrow=False, textangle=-90,
                            font=dict(size=fs["yt"], family=FONT, color="black")))
    # legend box
    lx0, ly0, lx1, ly1 = p["legbox"]
    shapes.append(dict(type="rect", xref="paper", yref="paper", x0=px(lx0), x1=px(lx1), y0=py(ly1), y1=py(ly0),
                       fillcolor="white", line=dict(color="black", width=2), layer="above"))
    cy0 = (ly0 + ly1) / 2 - 1.5 * p["legsp"]
    for k, nm in enumerate(p["names"]):
        cy = cy0 + k * p["legsp"]
        sw = p["swatch"][k]
        if sw is not None:
            shapes.append(dict(type="line", xref="paper", yref="paper", x0=px(lx0 + 5), x1=px(lx0 + 75),
                               y0=py(cy), y1=py(cy), line=dict(color=sw, width=2), layer="above"))
        annotations.append(dict(text=nm, xref="paper", yref="paper", x=px(lx0 + 84), y=py(cy), xanchor="left",
                                yanchor="middle", showarrow=False,
                                font=dict(size=fs["leg"], family=FONT, color="black")))

# vertical reference line at zero hoop strain in panel 3
shapes.append(dict(type="line", xref="x3", yref="y3", x0=0, x1=0, y0=y_range[0], y1=y_range[1],
                   line=dict(color="black", width=2.5)))

layout["shapes"] = shapes
layout["annotations"] = annotations
fig.update_layout(**layout)
fig.write_html("out.html", config={"displayModeBar": False, "staticPlot": True},
               post_script="document.body.style.margin='0';document.body.style.overflow='hidden';")
